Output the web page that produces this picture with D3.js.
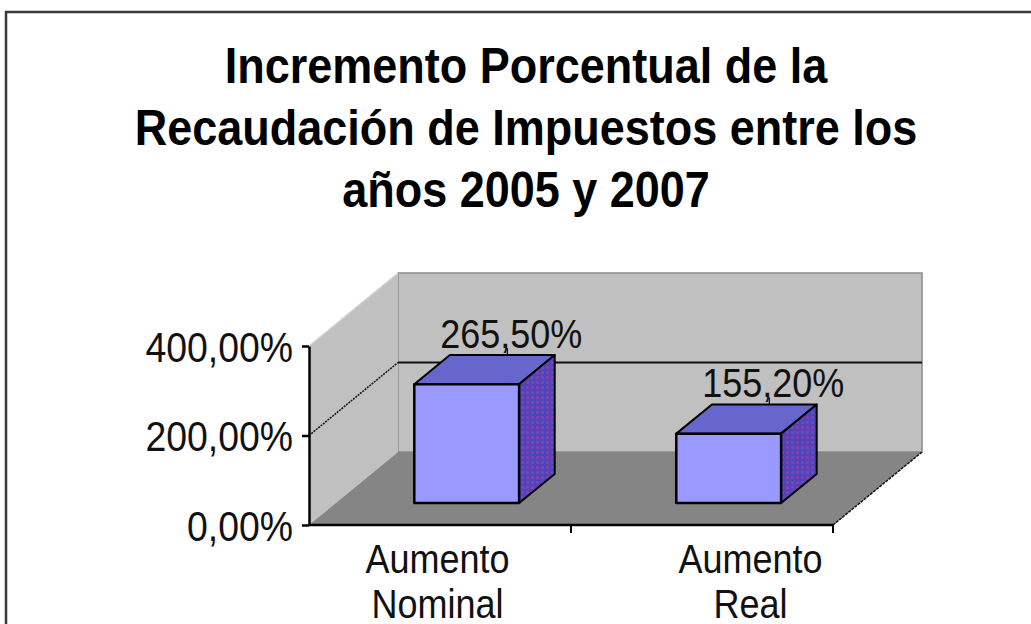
<!DOCTYPE html>
<html>
<head>
<meta charset="utf-8">
<script src="https://cdn.jsdelivr.net/npm/d3@7"></script>
<style>
  html, body { margin: 0; padding: 0; background: #fff; }
  text { font-family: "Liberation Sans", Arial, sans-serif; }
</style>
</head>
<body>
<svg id="chart" width="1031" height="624"></svg>
<script>
// Data
const titleLines = ["Incremento Porcentual de la", "Recaudación de Impuestos entre los", "años 2005 y 2007"];
const categories = ["Aumento Nominal", "Aumento Real"];
const values = [265.5, 155.2];
const yTicks = [0, 200, 400];

const svg = d3.select('#chart');
const fmtPct = d => d3.format('.2f')(d).replace('.', ',') + '%';

// chart frame
svg.append('rect')
  .attr('x', 6).attr('y', 12)
  .attr('width', 1100).attr('height', 700)
  .attr('fill', '#fff')
  .attr('stroke', '#3a3a3a')
  .attr('stroke-width', 2.5);

// title
svg.selectAll('.title')
  .data(titleLines)
  .enter().append('text')
  .attr('class', 'title')
  .attr('transform', (d, i) => `translate(526,${83 + i * 62}) scale(0.9,1)`)
  .attr('text-anchor', 'middle')
  .style('font-size', '50px')
  .style('font-weight', 'bold')
  .text(d => d);

// scales + 3d projection
const y = d3.scaleLinear().domain([0, 400]).range([525, 346]);
const x = d3.scaleBand().domain(categories).range([309, 833]).paddingInner(0.6).paddingOuter(0.3);
const xCat = d3.scaleBand().domain(categories).range([309, 833]);
const xLabel = d3.scaleBand().domain(categories).range([281, 907]);
const depth = { dx: 89, dy: -73 };
const z0 = 0.3, z1 = 0.7;

function P(px, v, z) {
  return [px + z * depth.dx, y(v) + z * depth.dy];
}
const poly = pts => pts.map(p => p.join(',')).join(' ');

const x0 = xCat.range()[0], x1 = xCat.range()[1];
const yMax = y.domain()[1];

// side face pattern
const defs = svg.append('defs');
const pat = defs.append('pattern')
  .attr('id', 'dots')
  .attr('width', 5).attr('height', 5)
  .attr('patternUnits', 'userSpaceOnUse');
pat.append('rect').attr('width', 5).attr('height', 5).attr('fill', '#4f45b8');
pat.append('rect').attr('x', 1).attr('y', 1).attr('width', 3).attr('height', 3).attr('fill', '#7e3fb0');
pat.append('rect').attr('x', 2).attr('y', 2).attr('width', 1).attr('height', 1).attr('fill', '#5a5ad0');

// walls + floor
svg.append('polygon')
  .attr('points', poly([P(x0, yMax, 1), P(x1, yMax, 1), P(x1, 0, 1), P(x0, 0, 1)]))
  .attr('fill', '#c0c0c0')
  .attr('stroke', '#8c8c8c')
  .attr('stroke-width', 1.5);

svg.append('polygon')
  .attr('points', poly([P(x0, 0, 0), P(x0, yMax, 0), P(x0, yMax, 1), P(x0, 0, 1)]))
  .attr('fill', '#c0c0c0');
svg.append('line')
  .attr('x1', P(x0, yMax, 0)[0]).attr('y1', P(x0, yMax, 0)[1])
  .attr('x2', P(x0, yMax, 1)[0]).attr('y2', P(x0, yMax, 1)[1])
  .attr('stroke', '#d4d4d4').attr('stroke-width', 1.5);

svg.append('polygon')
  .attr('points', poly([P(x0, 0, 0), P(x1, 0, 0), P(x1, 0, 1), P(x0, 0, 1)]))
  .attr('fill', '#858585');
svg.append('line')
  .attr('x1', P(x1, 0, 0)[0]).attr('y1', P(x1, 0, 0)[1])
  .attr('x2', P(x1, 0, 1)[0]).attr('y2', P(x1, 0, 1)[1])
  .attr('stroke', '#111').attr('stroke-width', 1.5)
  .attr('stroke-dasharray', '3,1');

// gridlines (inner ticks only)
const inner = yTicks.filter(t => t > 0 && t < yMax);
svg.selectAll('.grid-back')
  .data(inner)
  .enter().append('line')
  .attr('x1', P(x0, 0, 1)[0]).attr('x2', P(x1, 0, 1)[0])
  .attr('y1', d => P(x0, d, 1)[1]).attr('y2', d => P(x0, d, 1)[1])
  .attr('stroke', '#111').attr('stroke-width', 2);
svg.selectAll('.grid-side')
  .data(inner)
  .enter().append('line')
  .attr('x1', P(x0, 0, 0)[0]).attr('x2', P(x0, 0, 1)[0])
  .attr('y1', d => P(x0, d, 0)[1]).attr('y2', d => P(x0, d, 1)[1])
  .attr('stroke', '#111').attr('stroke-width', 1.5)
  .attr('stroke-dasharray', '2,1');

// bars
const bars = svg.selectAll('.bar')
  .data(categories.map((c, i) => ({ cat: c, value: values[i] })))
  .enter().append('g').attr('class', 'bar');

bars.append('polygon')
  .attr('points', d => {
    const a = x(d.cat), b = a + x.bandwidth();
    return poly([P(a, d.value, z0), P(b, d.value, z0), P(b, d.value, z1), P(a, d.value, z1)]);
  })
  .attr('fill', '#6666cc').attr('stroke', '#000').attr('stroke-width', 2).attr('stroke-linejoin', 'round');

bars.append('polygon')
  .attr('points', d => {
    const b = x(d.cat) + x.bandwidth();
    return poly([P(b, d.value, z0), P(b, 0, z0), P(b, 0, z1), P(b, d.value, z1)]);
  })
  .attr('fill', 'url(#dots)').attr('stroke', '#000').attr('stroke-width', 2).attr('stroke-linejoin', 'round');

bars.append('polygon')
  .attr('points', d => {
    const a = x(d.cat), b = a + x.bandwidth();
    return poly([P(a, d.value, z0), P(b, d.value, z0), P(b, 0, z0), P(a, 0, z0)]);
  })
  .attr('fill', '#9999ff').attr('stroke', '#000').attr('stroke-width', 2.5).attr('stroke-linejoin', 'round');

// data labels
bars.append('line')
  .attr('x1', d => P(x(d.cat) + x.bandwidth() / 2, d.value, z1)[0] + 5)
  .attr('x2', d => P(x(d.cat) + x.bandwidth() / 2, d.value, z1)[0] + 5)
  .attr('y1', d => P(0, d.value, z1)[1])
  .attr('y2', d => P(0, d.value, z1)[1] - 7)
  .attr('stroke', '#000').attr('stroke-width', 1.2);

bars.append('text')
  .attr('transform', d => {
    const p = P(x(d.cat) + x.bandwidth() / 2, d.value, z1);
    return `translate(${p[0] + 9},${p[1] - 7}) scale(0.9,1)`;
  })
  .attr('text-anchor', 'middle')
  .style('font-size', '40px')
  .style('fill', '#111')
  .text(d => fmtPct(d.value));

// y axis
const yAxis = svg.append('g')
  .attr('transform', `translate(${x0},0)`)
  .call(d3.axisLeft(y).tickValues(yTicks).tickSize(7).tickSizeOuter(0).tickFormat(fmtPct));
yAxis.select('.domain').attr('stroke', '#000').attr('stroke-width', 2.5);
yAxis.selectAll('.tick line').attr('stroke', '#000').attr('stroke-width', 2.5);
yAxis.selectAll('.tick text')
  .attr('x', null).attr('dy', null)
  .attr('transform', 'translate(-16,15) scale(0.89,1)')
  .attr('text-anchor', 'end')
  .style('font-family', '"Liberation Sans", Arial, sans-serif')
  .style('font-size', '42px')
  .style('fill', '#111');

// x axis (floor front edge)
svg.append('line')
  .attr('x1', x0).attr('x2', x1)
  .attr('y1', y(0)).attr('y2', y(0))
  .attr('stroke', '#000').attr('stroke-width', 2.5);
svg.selectAll('.xtick')
  .data(categories)
  .enter().append('line')
  .attr('x1', d => xCat(d) + xCat.bandwidth()).attr('x2', d => xCat(d) + xCat.bandwidth())
  .attr('y1', y(0)).attr('y2', y(0) + 8)
  .attr('stroke', '#000').attr('stroke-width', 2);

// category labels
const catLabels = svg.selectAll('.cat')
  .data(categories)
  .enter().append('text')
  .attr('class', 'cat')
  .attr('text-anchor', 'middle')
  .style('font-size', '40px')
  .style('fill', '#111');
catLabels.selectAll('tspan')
  .data(d => d.split(' ').map((w, i) => ({ w, i, cat: d })))
  .enter().append('tspan')
  .text(d => d.w);
catLabels.each(function(d) {
  d3.select(this).attr('transform', `translate(${xLabel(d) + xLabel.bandwidth() / 2},573) scale(0.9,1)`);
  d3.select(this).selectAll('tspan').attr('x', 0).attr('y', t => t.i * 45);
});
</script>
</body>
</html>
